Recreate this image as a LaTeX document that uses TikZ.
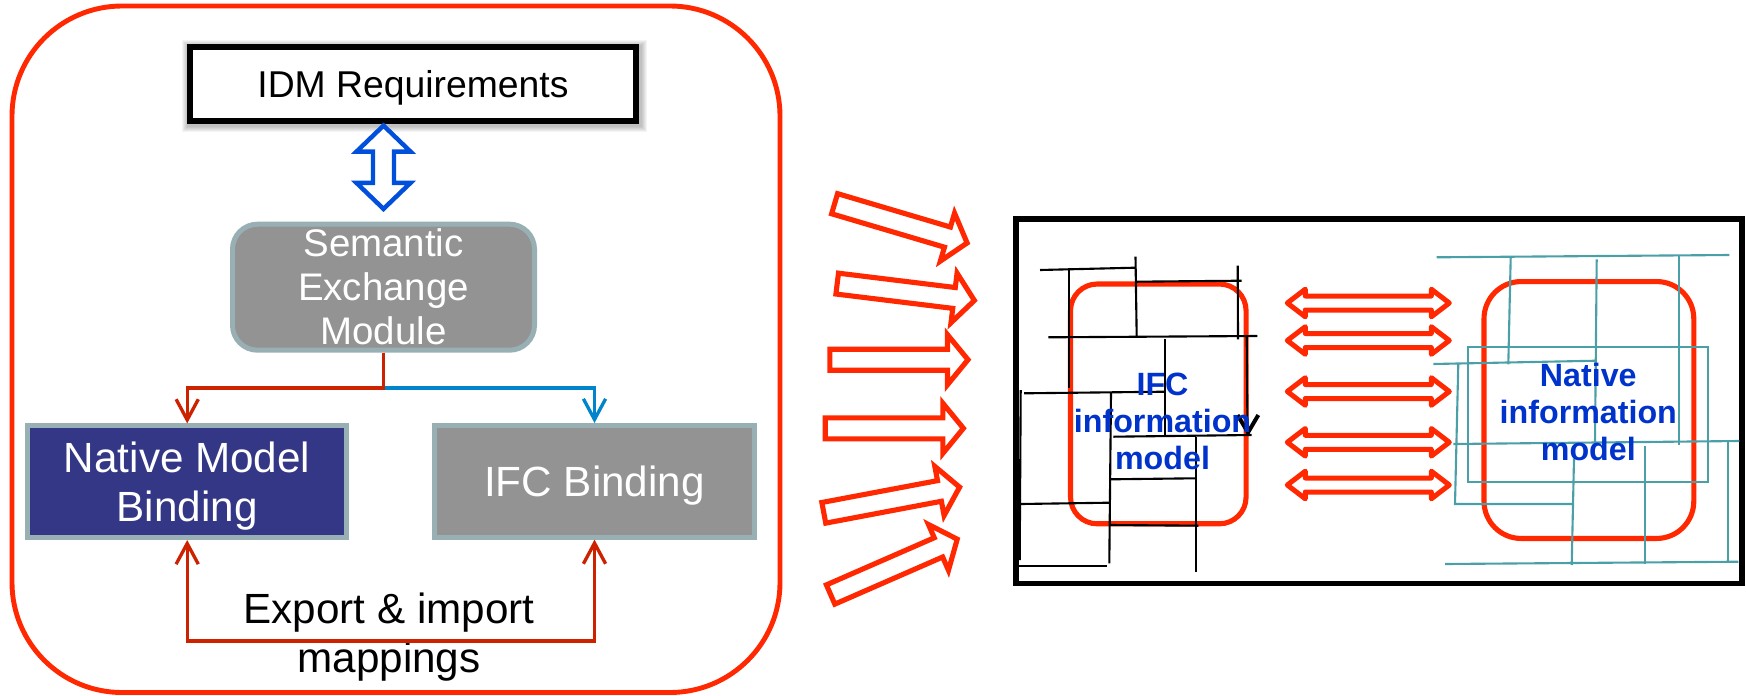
\documentclass[tikz,border=0pt]{standalone}
\usepackage{fontspec}
\setmainfont{Liberation Sans}
\usetikzlibrary{arrows.meta,calc,backgrounds}

\definecolor{framered}{RGB}{255,40,0}
\definecolor{linkred}{RGB}{204,34,0}
\definecolor{linkblue}{RGB}{0,132,204}
\definecolor{idmblue}{RGB}{0,80,220}
\definecolor{boxgray}{RGB}{147,147,147}
\definecolor{boxedge}{RGB}{152,176,180}
\definecolor{navy}{RGB}{51,55,133}
\definecolor{gridteal}{RGB}{74,160,166}
\definecolor{labelblue}{RGB}{0,51,204}

\tikzset{
  barb/.tip={Straight Barb[length=9.3pt,width=10pt]},
  fatarrow/.pic={\draw[framered,line width=2.3pt,fill=white,line join=miter]
    (0,-10.5)--(117.7,-10.5)--(117.7,-25)--(138.2,0)--(117.7,25)--(117.7,10.5)
    --(0,10.5)--cycle;},
  twinarrow/.pic={\draw[framered,line width=2.25pt,fill=white,line join=round]
    (-81,0)--(-63,-13.8)--(-63,-7)--(63,-7)--(63,-13.8)--(81,0)
    --(63,13.8)--(63,7)--(-63,7)--(-63,13.8)--cycle;},
}

\begin{document}
\begin{tikzpicture}[x=0.45pt,y=-0.45pt,
  every node/.style={inner sep=0pt},
  binding/.style={draw=boxedge,line width=2.25pt,text=white,align=center,
    minimum width=143.7pt,minimum height=50.2pt,text depth=0pt,
    font=\fontsize{19}{22.2}\selectfont},
  redlink/.style={draw=linkred,line width=1.5pt},
  bluelink/.style={draw=linkblue,line width=1.5pt},
  modelframe/.style={draw=framered,line width=2.3pt,rounded corners=#1},
  modeltext/.style={text=labelblue,align=center,text depth=0pt,
    font=\fontsize{14.5}{16.7}\selectfont\bfseries},
  blackgrid/.style={draw=black,line width=0.95pt},
  tealgrid/.style={draw=gridteal,line width=0.95pt},
]
\useasboundingbox (0,0) rectangle (1746,695);

% ---------------- left panel ----------------
\draw[framered,line width=2.2pt,rounded corners=49.5pt] (12,6) rectangle (780,692.5);

\node[draw=black,fill=white,line width=2.7pt,minimum width=201pt,minimum height=33.2pt,
  text depth=0pt,font=\fontsize{16.8}{20}\selectfont] (idm) at (413,84.2) {IDM Requirements};

\node[draw=boxedge,fill=boxgray,line width=2.25pt,rounded corners=11.25pt,
  minimum width=135.9pt,minimum height=56.7pt,text=white,align=center,
  font=\fontsize{17.3}{19.8}\selectfont] (sem) at (383.5,287.2)
  {Semantic\\Exchange\\Module};

\node[binding,fill=navy] (native) at (187.2,481.7) {Native Model\\Binding};
\node[binding,fill=boxgray] (ifcb) at (594.5,481.3) {IFC Binding};

\node[align=center,text depth=0pt,font=\fontsize{19}{22}\selectfont] (maps)
  at (389,632.7) {Export \& import\\mappings};

% soft shadow behind the requirements box
\begin{scope}[on background layer]
  \fill[white] (0,0) rectangle (1746,695);
  \foreach \i in {1,...,6}
    \fill[black,opacity=0.045] ($(idm.north west)+(-\i+1,-\i+2)$)
      rectangle ($(idm.south east)+(\i+2,\i+2)$);
\end{scope}

% hollow two-way arrow between requirements and module
\coordinate (bt) at ($(idm.south -| sem.north)+(0,1.5)$);
\coordinate (bb) at ($(sem.north)+(0,-12.8)$);
\draw[idmblue,line width=2pt,fill=white,line join=miter]
  (bt) -- ($(bt)+(27,26)$) -- ($(bt)+(10.5,26)$) -- ($(bb)+(10.5,-26)$)
  -- ($(bb)+(27,-26)$) -- (bb) -- ($(bb)+(-27,-26)$) -- ($(bb)+(-10.5,-26)$)
  -- ($(bt)+(-10.5,26)$) -- ($(bt)+(-27,26)$) -- cycle;

% branches from the module to the two bindings
\coordinate (split) at (383.5,388);
\coordinate (bus) at (0,641);
\draw[bluelink,-barb] (sem.south |- split) -| (ifcb.north);
\draw[redlink,-barb] (sem.south) -- (sem.south |- split) -| (native.north);
\draw[redlink,barb-barb] (native.south) -- (native.south |- bus) -| (ifcb.south);

% ---------------- arrows towards the models ----------------
\pic[rotate=-16.5] at (834.6,203.7) {fatarrow};
\pic[rotate=-7]    at (837.2,283.6) {fatarrow};
\pic               at (829.8,359.7) {fatarrow};
\pic               at (825.2,428.3) {fatarrow};
\pic[rotate=10.7]  at (823.8,512.8) {fatarrow};
\pic[rotate=23.6]  at (830.6,594.5) {fatarrow};

% ---------------- right panel ----------------
\draw[black,line width=2.5pt] (1016,219.2) rectangle (1742,583.5);

\node[modelframe=12pt,minimum width=79pt,minimum height=107.9pt] (ifcm) at (1158.3,403.9) {};
\node[modelframe=16.7pt,minimum width=94.4pt,minimum height=115.6pt] (natm) at (1588.9,410) {};

\foreach \y in {303,340.5,391.5,442.3,485}
  \pic at (1368.3,\y) {twinarrow};

% IFC side structure lines
\draw[blackgrid] (1040,270) -- (1135,267.7);
\draw[blackgrid] (1069.3,267.7) -- (1069.3,388);
\draw[blackgrid] (1135.5,256.7) -- (1136.7,337.3);
\draw[blackgrid] (1136.7,281.7) -- (1241.7,280.7);
\draw[blackgrid] (1237.7,265.7) -- (1238,339.3);
\draw[blackgrid] (1048.3,337.3) -- (1257.3,336);
\draw[blackgrid] (1246.7,336) -- (1247.5,433);
\draw[black,line width=1.8pt] (1237.5,415) -- (1248,432.5) -- (1258.3,415);
\draw[blackgrid] (1165,339) -- (1165,435);
\draw[blackgrid] (1024,393.3) -- (1165,391.7);
\draw[blackgrid] (1020.7,390) -- (1019.7,560);
\draw[blackgrid] (1111,392.7) -- (1109.3,563.3);
\draw[blackgrid] (1113.3,436.7) -- (1251.7,435);
\draw[blackgrid] (1196,436.7) -- (1196,571.7);
\draw[blackgrid] (1111,479.3) -- (1195,478.3);
\draw[blackgrid] (1020.7,504) -- (1109.3,502.7);
\draw[blackgrid] (1110,525) -- (1198.3,525.7);
\draw[blackgrid] (1019,566) -- (1106.7,566);

% native side structure lines
\draw[tealgrid] (1436.7,257.3) -- (1729.3,255);
\draw[tealgrid] (1510.7,257.3) -- (1508.3,364.3);
\draw[tealgrid] (1596.7,259.3) -- (1595,442.7);
\draw[tealgrid] (1679.3,256) -- (1679.3,445);
\draw[tealgrid] (1468.3,346.7) rectangle (1708.3,481.7);
\draw[tealgrid] (1433.3,364) -- (1596.7,360.7);
\draw[tealgrid] (1458.3,363.3) -- (1455,504) -- (1572.7,504);
\draw[tealgrid] (1453.3,444) -- (1739.3,441);
\draw[tealgrid] (1574,458.3) -- (1571.7,565);
\draw[tealgrid] (1645,446) -- (1645,564);
\draw[tealgrid] (1728.3,441.7) -- (1728.3,562.7);
\draw[tealgrid] (1445,564) -- (1738.3,561.7);

\node[modeltext] (ifct) at (1162.5,421) {IFC\\information\\model};
\node[modeltext] (natt) at (1588.3,412) {Native\\information\\model};

\end{tikzpicture}
\end{document}
